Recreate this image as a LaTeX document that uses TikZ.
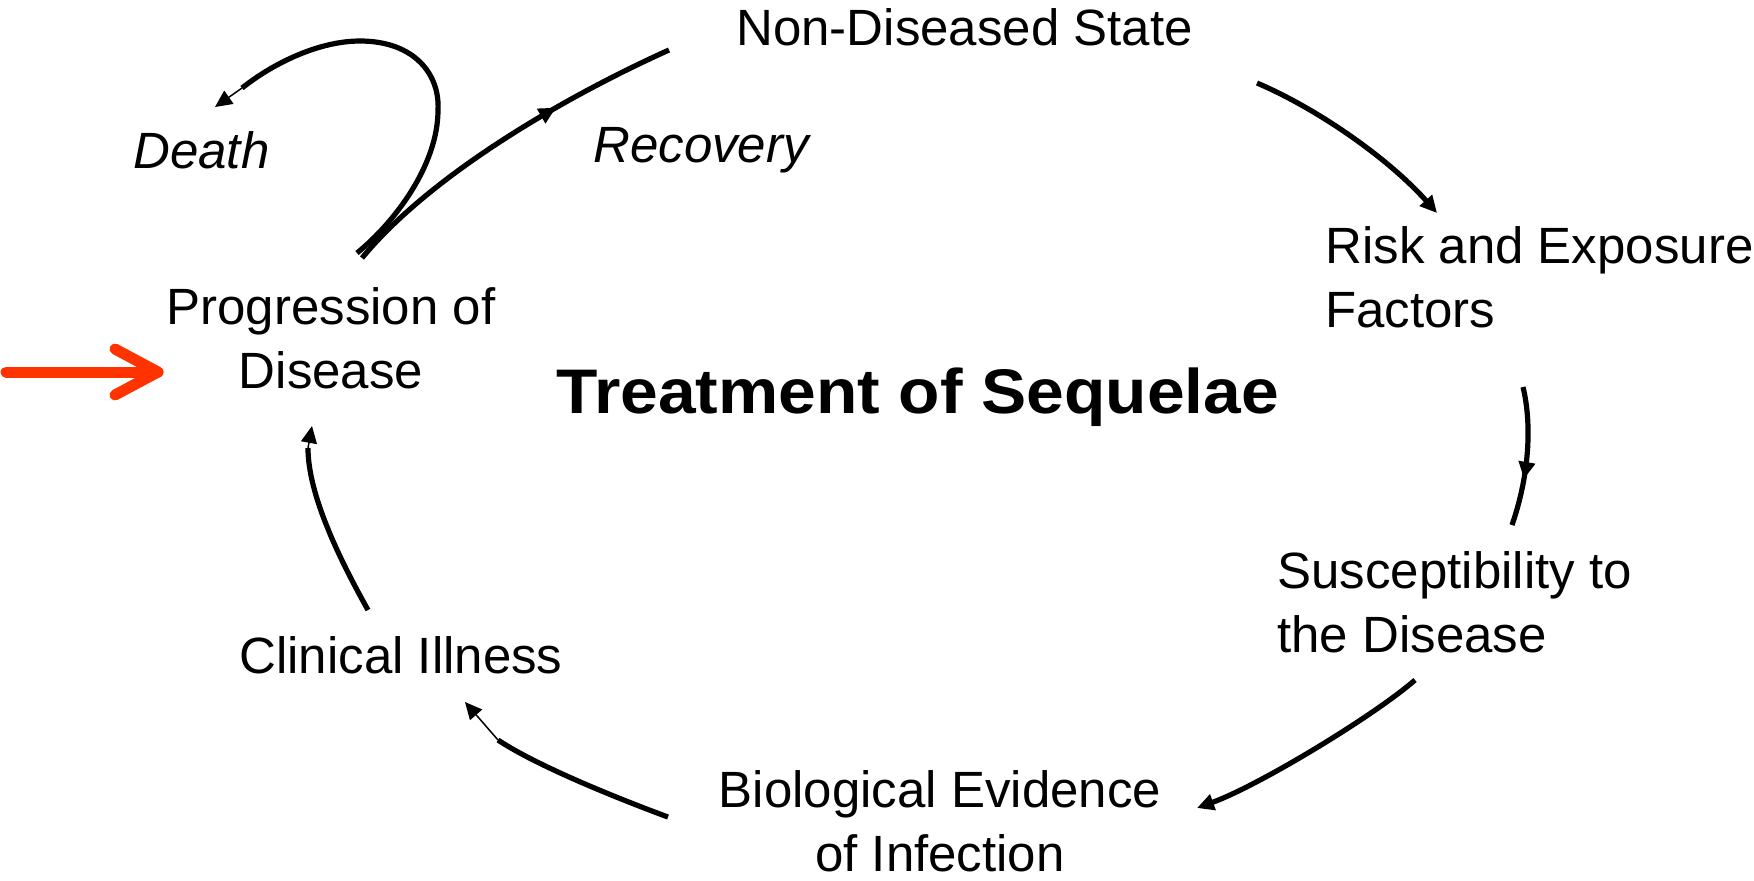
\documentclass[tikz,border=0pt]{standalone}
\usepackage{fontspec}
\setmainfont{Liberation Sans}
\newfontfamily\headfont[FakeStretch=1.075]{Liberation Sans}
\usetikzlibrary{arrows.meta,decorations.markings,calc}
\definecolor{pointer}{RGB}{255,51,0}

\begin{document}
\begin{tikzpicture}[x=0.5pt,y=-0.5pt,
  txt/.style={inner sep=0pt, font=\fontsize{25.5pt}{32pt}\selectfont},
  txtit/.style={inner sep=0pt, font=\fontsize{25.5pt}{32pt}\selectfont\itshape},
  headline/.style={inner sep=0pt, font=\headfont\bfseries\fontsize{31.5pt}{38pt}\selectfont},
  conn/.style={line width=2.6pt},
  tiny/.style={line width=0.75pt},
  tip/.style={-{Triangle[length=8.5pt,width=8pt]}},
  midtip/.style={postaction={decorate}, decoration={markings,
      mark=at position #1 with {\arrow{Triangle[length=8.5pt,width=8pt]}}}},
  redptr/.style={draw=pointer, line width=5.5pt, line cap=round, line join=round}
]
\useasboundingbox (0,0) rectangle (1754,880);

% stages of the cycle (two-line labels are placed by their last baseline)
\node[txt, anchor=base west] (nonds) at (736,45) {Non-Diseased State};
\node[txt, anchor=base west, align=left] (risk) at (1325,327) {Risk and Exposure\\Factors};
\node[txt, anchor=base west, align=left] (susc) at (1277,652) {Susceptibility to\\the Disease};
\node[txt, anchor=base, align=center] (bio) at (940,871) {Biological Evidence\\of Infection};
\node[txt, anchor=base west] (clin) at (239,673) {Clinical Illness};
\node[txt, anchor=base, align=center] (prog) at (331,388) {Progression of\\Disease};
\node[txtit, anchor=base west] (death) at (133,168) {Death};
\node[txtit, anchor=base west] (recov) at (593,162) {Recovery};
\node[headline, anchor=base west] (treat) at (556,413) {Treatment of Sequelae};

% connector end points
\coordinate (a1) at (1257,83);   \coordinate (a2) at (1437,213);
\coordinate (b1) at (1523,387);  \coordinate (b2) at (1512,525);
\coordinate (c1) at (1415,680);  \coordinate (c2) at (1197,808);
\coordinate (d1) at (668,817);   \coordinate (d2) at (498,740);  \coordinate (d3) at (465,702);
\coordinate (e1) at (368,610);   \coordinate (e2) at (308,448);  \coordinate (e3) at (312,426);
\coordinate (r1) at (362,258);   \coordinate (r2) at (669,50);
\coordinate (k1) at (357,253);   \coordinate (k2) at (242,88);   \coordinate (k3) at (215,107);
\coordinate (p1) at (6,372);     \coordinate (p2) at (158,372);

% cycle arrows
\draw[conn, tip] (a1) .. controls (1320,110) and (1390,160) .. (a2);
\draw[conn, midtip=0.66] (b1) .. controls (1531,420) and (1531,470) .. (b2);
\draw[conn, tip] (c1) .. controls (1375,715) and (1260,785) .. (c2);
\draw[conn] (d1) .. controls (630,803) and (540,768) .. (d2);
\draw[tiny, tip] (d2) -- (d3);
\draw[conn] (e1) .. controls (340,560) and (308,495) .. (e2);
\draw[tiny, tip] (e2) -- (e3);

% outcomes of progression
\draw[conn, midtip=0.66] (r1) .. controls (432,173) and (569,95) .. (r2);
\draw[conn] (k1) .. controls (395,222) and (438,165) .. (438,110)
  .. controls (440,75) and (415,41) .. (360,41)
  .. controls (320,41) and (275,62) .. (k2);
\draw[tiny, tip] (k2) -- (k3);

% entry pointer
\draw[redptr] (p1) -- (p2);
\draw[redptr] ($(p2)+(-43,-23)$) -- (p2) -- ($(p2)+(-43,23)$);
\end{tikzpicture}
\end{document}
